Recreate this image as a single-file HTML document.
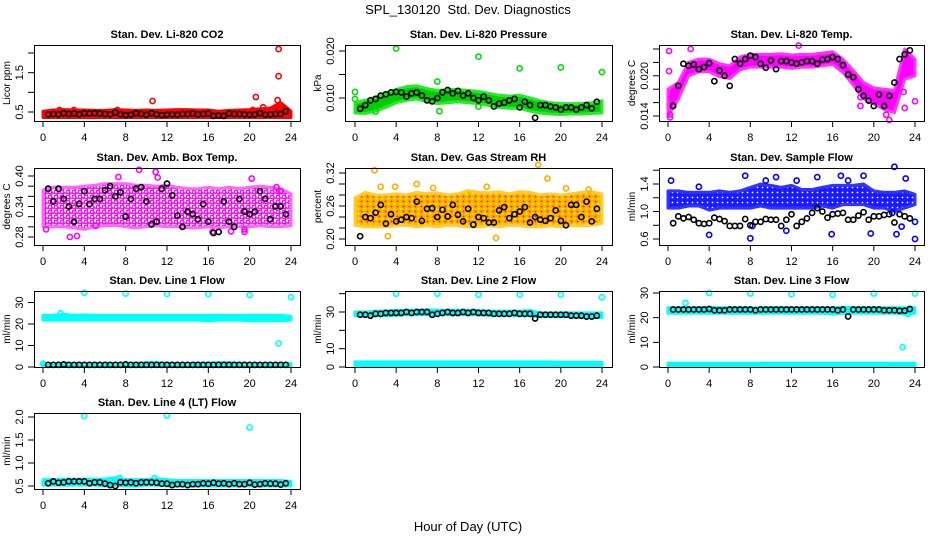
<!DOCTYPE html>
<html><head><meta charset="utf-8">
<style>
html,body{margin:0;padding:0;background:#fff;}
svg{display:block;font-family:"Liberation Sans",Arial,sans-serif;}
</style></head>
<body>
<svg id="chart" width="936" height="540" viewBox="0 0 936 540" xmlns="http://www.w3.org/2000/svg">
<defs>
  <pattern id="patMag" width="6" height="5" patternUnits="userSpaceOnUse">
    <circle cx="2" cy="2" r="1.8" fill="none" stroke="#ff00ff" stroke-width="1.4"/>
    <circle cx="5" cy="4.5" r="1.6" fill="none" stroke="#ff00ff" stroke-width="1.4"/>
  </pattern>
  <pattern id="patRH" width="6" height="5" patternUnits="userSpaceOnUse">
    <rect width="6" height="5" fill="#ffb000"/>
    <circle cx="1.5" cy="1.5" r="1" fill="#ff2a00"/>
    <circle cx="4.5" cy="3.8" r="1" fill="#ffff00"/>
  </pattern>
  <pattern id="patBlue" width="5" height="5" patternUnits="userSpaceOnUse">
    <rect width="5" height="5" fill="#1a1aff"/>
    <circle cx="2.5" cy="2.5" r="0.9" fill="#ffffff"/>
  </pattern>
</defs>
<text x="468" y="14" font-size="13" text-anchor="middle">SPL_130120&#160; Std. Dev. Diagnostics</text>
<text x="468" y="531" font-size="13" text-anchor="middle">Hour of Day (UTC)</text>
<g id="panels"></g>
</svg>
<script>
// ---------- data ----------
const knotH = [0,1,2,3,4,5,6,7,8,9,10,11,12,13,14,15,16,17,18,19,20,21,22,23,24];
const blkH = [0.5,1,1.5,2,2.5,3,3.5,4,4.5,5,5.5,6,6.5,7,7.5,8,8.5,9,9.5,10,10.5,11,11.5,12,12.5,13,13.5,14,14.5,15,15.5,16,16.5,17,17.5,18,18.5,19,19.5,20,20.5,21,21.5,22,22.5,23,23.5];
const xTicks = [0,4,8,12,16,20,24];

// P1 CO2
const co2Lo = [0.36,0.36,0.36,0.36,0.36,0.36,0.36,0.36,0.36,0.36,0.36,0.36,0.36,0.36,0.36,0.36,0.36,0.36,0.36,0.36,0.36,0.36,0.36,0.36,0.36];
const co2Hi = [0.52,0.55,0.56,0.55,0.55,0.54,0.54,0.56,0.55,0.54,0.55,0.54,0.55,0.56,0.56,0.55,0.55,0.52,0.54,0.55,0.56,0.58,0.60,0.74,0.52];
const co2Blk = [0.44,0.45,0.44,0.47,0.45,0.46,0.44,0.47,0.46,0.47,0.46,0.45,0.44,0.49,0.44,0.42,0.43,0.47,0.45,0.43,0.47,0.44,0.42,0.43,0.44,0.43,0.45,0.45,0.46,0.44,0.45,0.46,0.40,0.41,0.40,0.46,0.45,0.45,0.44,0.43,0.44,0.47,0.43,0.44,0.45,0.45,0.52];
const co2OutH = [10.6,20.6,22.8,22.8,22.7,1.6,3.0,7.2,21.3,20.3];
const co2OutV = [0.78,0.88,2.10,1.41,0.80,0.55,0.55,0.55,0.62,0.55];

// P2 Pressure
const presLo = [0.0068,0.0067,0.0072,0.0080,0.0090,0.0095,0.0098,0.0092,0.0088,0.0090,0.0092,0.0090,0.0088,0.0084,0.0080,0.0078,0.0078,0.0072,0.0068,0.0066,0.0065,0.0066,0.0066,0.0067,0.0068];
const presHi = [0.0090,0.0095,0.0102,0.0110,0.0118,0.0124,0.0126,0.0120,0.0116,0.0118,0.0118,0.0116,0.0114,0.0110,0.0106,0.0104,0.0106,0.0100,0.0094,0.0090,0.0088,0.0088,0.0088,0.0090,0.0094];
const presBlk = [0.0077,0.0085,0.0095,0.0098,0.0105,0.0108,0.0112,0.0113,0.0112,0.0103,0.0110,0.0112,0.0105,0.0095,0.0093,0.0100,0.0112,0.0117,0.0110,0.0115,0.0105,0.0110,0.0100,0.0095,0.0103,0.0095,0.0082,0.0088,0.0090,0.0095,0.0098,0.0080,0.0092,0.0085,0.0058,0.0085,0.0085,0.0082,0.0080,0.0075,0.0080,0.0080,0.0075,0.0080,0.0085,0.0078,0.0092];
const presOutH = [0,4,8,12,16,20,24,0,12,8.2,2];
const presOutV = [0.0113,0.0205,0.0135,0.0188,0.0163,0.0165,0.0155,0.0098,0.0082,0.0072,0.0071];

// P3 Temp
const tempLo = [0.0140,0.0165,0.0200,0.0206,0.0206,0.0199,0.0196,0.0209,0.0213,0.0213,0.0213,0.0213,0.0211,0.0213,0.0213,0.0215,0.0217,0.0205,0.0186,0.0166,0.0158,0.0150,0.0145,0.0195,0.0200];
const tempHi = [0.0180,0.0190,0.0220,0.0225,0.0225,0.0218,0.0215,0.0228,0.0232,0.0232,0.0232,0.0233,0.0231,0.0232,0.0232,0.0234,0.0236,0.0225,0.0208,0.0190,0.0182,0.0180,0.0178,0.0240,0.0225];
const tempBlk = [0.0155,0.0185,0.0218,0.0215,0.0217,0.0210,0.0213,0.0219,0.0192,0.0208,0.0200,0.0185,0.0225,0.0218,0.0225,0.0230,0.0228,0.0218,0.0212,0.0223,0.0210,0.0222,0.0222,0.0220,0.0218,0.0220,0.0222,0.0222,0.0218,0.0224,0.0225,0.0228,0.0225,0.0216,0.0202,0.0198,0.0180,0.0170,0.0163,0.0155,0.0172,0.0155,0.0170,0.0190,0.0225,0.0232,0.0238];
const tempOutH = [0.1,0.1,0.2,0.2,2.2,23,22.9,21.5,18.7,18.7,12.7,24,0.4,21.2];
const tempOutV = [0.0237,0.0207,0.0142,0.0138,0.0240,0.0152,0.0176,0.0134,0.0155,0.0168,0.0245,0.0162,0.0170,0.0142];

// P4 Amb box temp
const ambLo = [0.300,0.300,0.300,0.298,0.295,0.300,0.302,0.303,0.300,0.298,0.300,0.302,0.300,0.300,0.298,0.298,0.300,0.298,0.300,0.300,0.300,0.302,0.300,0.300,0.302];
const ambHi = [0.372,0.378,0.378,0.378,0.380,0.382,0.385,0.385,0.385,0.382,0.382,0.380,0.382,0.378,0.375,0.375,0.378,0.375,0.378,0.375,0.378,0.380,0.378,0.375,0.365];
const ambBlk = [0.375,0.350,0.375,0.355,0.340,0.310,0.345,0.370,0.345,0.355,0.355,0.372,0.380,0.360,0.368,0.320,0.355,0.375,0.378,0.350,0.305,0.310,0.375,0.385,0.362,0.322,0.300,0.330,0.325,0.315,0.345,0.310,0.288,0.290,0.350,0.310,0.300,0.355,0.330,0.325,0.330,0.370,0.355,0.315,0.340,0.340,0.325];
const ambOutH = [0.3,2.6,3.3,5.1,7.3,10.9,11.1,19.5,19.5,20.2,22.6,23,9.3,16.4,18.2];
const ambOutV = [0.295,0.280,0.282,0.302,0.398,0.408,0.397,0.290,0.295,0.395,0.378,0.370,0.412,0.290,0.291];

// P5 Gas stream RH
const rhLo = [0.225,0.222,0.222,0.222,0.224,0.225,0.222,0.224,0.222,0.225,0.224,0.222,0.222,0.224,0.222,0.225,0.224,0.222,0.222,0.224,0.222,0.224,0.224,0.225,0.228];
const rhHi = [0.275,0.285,0.280,0.280,0.282,0.280,0.285,0.282,0.284,0.280,0.282,0.288,0.285,0.284,0.286,0.282,0.286,0.285,0.280,0.282,0.280,0.282,0.285,0.286,0.282];
const rhBlk = [0.205,0.240,0.238,0.248,0.262,0.228,0.245,0.232,0.235,0.240,0.238,0.268,0.233,0.255,0.256,0.240,0.253,0.241,0.262,0.244,0.232,0.255,0.226,0.240,0.238,0.230,0.230,0.252,0.258,0.238,0.245,0.250,0.258,0.230,0.240,0.235,0.233,0.238,0.252,0.233,0.225,0.262,0.262,0.240,0.268,0.232,0.255];
const rhOutH = [1.9,3.9,6.0,17.8,18.7,13.7,3.2,2.5,20.5,22.7,12.8,7.6];
const rhOutV = [0.325,0.295,0.300,0.335,0.310,0.202,0.205,0.295,0.292,0.290,0.295,0.293];

// P6 Sample flow
const smpLo = [1.05,1.05,1.08,1.08,1.02,1.05,1.05,1.05,1.05,1.08,1.05,1.05,1.05,1.05,1.05,1.08,1.05,1.10,1.10,1.10,1.05,1.05,1.00,1.05,1.10];
const smpHi = [1.30,1.30,1.28,1.28,1.28,1.30,1.28,1.30,1.35,1.40,1.38,1.35,1.38,1.32,1.32,1.35,1.38,1.38,1.38,1.40,1.30,1.28,1.28,1.30,1.25];
const smpBlk = [0.83,0.93,0.90,0.92,0.88,0.83,0.82,0.83,0.91,0.89,0.86,0.79,0.79,0.79,0.89,0.80,0.85,0.85,0.89,0.88,0.88,0.79,0.88,0.96,0.79,0.85,0.90,0.98,1.05,1.00,0.91,0.96,0.97,0.98,0.88,0.88,0.94,0.99,0.88,0.93,0.93,0.95,0.96,0.84,0.96,0.93,0.90];
const smpOutH = [0.3,3.0,7.5,8.0,8.2,9.5,10.5,11.5,12.5,14.5,15.9,16.8,17.5,19.0,22.0,22.2,22.7,23.1,24.0,21.8,4.0,19.7,24.0];
const smpOutV = [1.45,1.36,1.52,0.61,0.79,1.45,1.50,0.72,1.45,1.50,0.67,1.52,1.45,1.52,1.65,0.67,0.78,1.48,0.60,0.98,0.66,0.68,0.85];

// P7 Line 1 flow
const l1HiLo = [21.8,21.8,21.8,21.8,21.8,21.8,21.8,21.8,21.8,21.8,21.8,21.8,21.8,21.8,21.8,21.8,21.5,21.8,21.8,21.8,21.5,21.5,21.5,21.5,21.8];
const l1HiHi = [24.0,24.0,24.5,24.0,24.2,24.0,24.0,24.0,24.0,24.0,24.0,24.0,24.0,24.0,24.0,24.0,24.0,24.0,24.0,24.0,24.0,24.0,24.0,24.0,23.5];
const l1LoLo = [0.4,0.4,0.4,0.4,0.4,0.4,0.4,0.4,0.4,0.4,0.4,0.4,0.4,0.4,0.4,0.4,0.4,0.4,0.4,0.4,0.4,0.4,0.4,0.4,0.4];
const l1LoHi = [1.6,1.6,1.6,1.6,1.6,1.6,1.6,1.6,1.6,1.8,2.0,2.0,1.8,1.6,1.6,1.8,1.8,2.0,2.0,1.8,1.6,1.6,1.6,1.6,1.6];
const l1Blk = [1.0,1.0,1.0,1.2,1.0,1.0,1.0,1.0,1.0,1.0,1.0,1.0,1.0,1.0,1.0,1.2,1.0,1.0,1.0,1.0,1.0,1.0,1.0,1.0,1.0,1.0,1.0,1.0,1.0,1.0,1.0,1.0,1.0,1.0,1.0,1.0,1.0,1.0,1.0,1.0,1.0,1.0,1.0,1.0,1.0,1.0,1.0];
const l1OutH = [4,8,12,16,20,24,22.8,1.7,0];
const l1OutV = [34.5,34.2,34.0,34.0,33.5,32.5,11.0,25.0,1.5];

// P8 Line 2 flow
const l2HiLo = [28.0,28.0,28.0,28.0,28.2,28.5,28.5,28.5,28.5,28.5,28.5,28.5,28.5,28.2,28.2,28.2,28.0,28.0,27.5,27.5,27.5,27.5,27.2,27.0,27.0];
const l2HiHi = [30.0,30.0,30.5,30.5,30.8,31.0,31.0,31.2,31.0,31.0,31.0,31.0,30.8,30.5,30.5,30.5,30.5,30.8,29.5,29.5,29.5,29.5,29.5,29.5,29.5];
const l2LoLo = [0.5,0.5,0.5,0.5,0.5,0.5,0.5,0.5,0.5,0.5,0.5,0.5,0.5,0.5,0.5,0.5,0.5,0.5,0.5,0.5,0.5,0.5,0.5,0.5,0.5];
const l2LoHi = [2.8,2.8,2.8,2.8,2.8,2.8,2.8,2.8,2.8,2.8,2.8,2.8,2.8,2.8,2.8,2.8,2.8,2.8,2.8,2.8,2.5,2.5,2.5,2.5,2.5];
const l2Blk = [28.5,28.5,28.0,29.0,29.0,29.5,29.5,29.5,29.5,30.0,29.5,30.0,30.0,30.0,28.5,29.0,29.5,30.0,29.5,29.5,30.0,29.5,30.0,29.5,29.5,29.5,29.0,29.0,29.0,29.0,29.5,29.0,29.0,29.0,26.5,28.5,28.5,28.5,28.5,28.5,28.5,28.0,28.0,28.0,27.5,27.5,28.0];
const l2OutH = [4,8,12,16,20,24];
const l2OutV = [40.0,40.0,39.5,39.5,39.5,38.0];

// P9 Line 3 flow
const l3HiLo = [21.8,21.8,21.8,21.8,21.8,21.8,21.8,21.8,21.8,21.8,21.8,21.8,21.8,21.8,21.8,21.8,21.5,21.8,21.8,21.8,21.8,21.8,21.8,21.5,21.8];
const l3HiHi = [24.0,24.0,24.0,24.0,24.2,24.0,24.0,24.0,24.0,24.0,24.0,24.0,24.0,24.0,24.0,24.0,24.0,24.2,24.0,24.0,24.0,24.0,24.0,24.0,24.0];
const l3LoLo = [0.4,0.4,0.4,0.4,0.4,0.4,0.4,0.4,0.4,0.4,0.4,0.4,0.4,0.4,0.4,0.4,0.4,0.4,0.4,0.4,0.4,0.4,0.4,0.4,0.4];
const l3LoHi = [1.6,1.6,1.6,1.6,1.6,1.6,1.6,1.6,1.6,1.6,1.6,1.6,1.6,1.6,1.6,1.6,1.6,1.6,1.6,1.6,1.6,1.6,1.6,1.6,1.6];
const l3Blk = [23.3,23.3,23.3,23.3,23.3,23.3,23.3,23.5,23.0,23.0,23.0,23.3,23.3,23.3,23.3,23.3,23.0,23.3,23.3,23.3,23.3,23.3,23.3,23.3,23.3,23.3,23.3,23.3,23.3,23.3,23.3,23.3,23.0,23.3,20.5,23.3,23.3,23.3,23.3,23.3,23.3,23.0,23.0,23.0,22.8,22.8,23.5];
const l3OutH = [4,8,12,16,20,24,22.8,1.7,23.3];
const l3OutV = [30.0,29.8,29.5,29.3,29.8,29.8,8.0,26.0,21.5];

// P10 Line 4 flow
const l4Lo = [0.52,0.52,0.52,0.52,0.52,0.52,0.50,0.52,0.50,0.50,0.52,0.52,0.50,0.50,0.50,0.50,0.50,0.50,0.50,0.50,0.50,0.50,0.50,0.50,0.50];
const l4Hi = [0.64,0.64,0.65,0.65,0.65,0.65,0.65,0.68,0.64,0.64,0.64,0.66,0.64,0.62,0.62,0.62,0.62,0.62,0.62,0.62,0.62,0.62,0.62,0.62,0.60];
const l4Blk = [0.56,0.60,0.57,0.58,0.60,0.60,0.60,0.60,0.56,0.58,0.58,0.55,0.52,0.50,0.58,0.57,0.58,0.56,0.58,0.58,0.58,0.57,0.55,0.55,0.52,0.54,0.54,0.52,0.54,0.54,0.56,0.55,0.57,0.55,0.56,0.54,0.56,0.54,0.54,0.57,0.53,0.54,0.56,0.55,0.55,0.53,0.56];
const l4OutH = [4,12,20,7.4,10.8];
const l4OutV = [2.02,2.03,1.77,0.67,0.67];

// ---------- rendering ----------
const NS = 'http://www.w3.org/2000/svg';
const root = document.getElementById('panels');
const cols = [{l:34,r:300,x0:43,x24:291},{l:345,r:612,x0:355,x24:602},{l:659,r:924,x0:668,x24:915}];
const rows = [{t:45,b:121},{t:168,b:245},{t:291,b:367},{t:413,b:489}];

function mk(tag, attrs, parent){
  const e = document.createElementNS(NS, tag);
  for (const k in attrs) e.setAttribute(k, attrs[k]);
  parent.appendChild(e);
  return e;
}

function drawPanel(p){
  const c = cols[p.col], r = rows[p.row];
  const g = mk('g', {}, root);
  
  
  const X = h => c.x0 + h / 24 * (c.x24 - c.x0);
  const Y = v => p.yA[1] + (v - p.yA[0]) * (p.yA[3] - p.yA[1]) / (p.yA[2] - p.yA[0]);

  p.bands.forEach(bd => {
    let pts = [];
    for (let i = 0; i < knotH.length; i++) pts.push(X(knotH[i]).toFixed(1) + ',' + Y(bd.hi[i]).toFixed(1));
    for (let i = knotH.length - 1; i >= 0; i--) pts.push(X(knotH[i]).toFixed(1) + ',' + Y(bd.lo[i]).toFixed(1));
    const poly = mk('polygon', {points: pts.join(' '), fill: bd.fill, stroke: bd.stroke, 'stroke-width': 3, 'stroke-linejoin': 'round'}, g);
    
    
  });
  for (let i = 0; i < Math.min(p.outH.length, p.outV.length); i++) {
    const ci = mk('circle', {cx: X(p.outH[i]), cy: Y(p.outV[i]), r: 2.6, fill: 'none', stroke: p.color, 'stroke-width': 1.6}, g);
    
    
  }
  for (let i = 0; i < Math.min(blkH.length, p.blk.length); i++) {
    const ci = mk('circle', {cx: X(blkH[i]), cy: Y(p.blk[i]), r: 2.6, fill: 'none', stroke: '#000', 'stroke-width': 1.6}, g);
    
    
  }
  const box = mk('rect', {x: c.l + .5, y: r.t + .5, width: c.r - c.l, height: r.b - r.t, fill: 'none', stroke: '#000', 'stroke-width': 1}, g);
  
  
  const tt = mk('text', {x: (c.l + c.r) / 2, y: r.t - 7, 'font-size': 11, 'font-weight': 'bold', 'text-anchor': 'middle'}, g);
  tt.textContent = p.title;
  
  
  xTicks.forEach(t => {
    const x = X(t);
    const ln = mk('line', {x1: x, x2: x, y1: r.b, y2: r.b + 6, stroke: '#000'}, g);
    
    
    const tx = mk('text', {x: x, y: r.b + 20, 'font-size': 11, 'text-anchor': 'middle'}, g);
    tx.textContent = String(t);
    
    
  });
  p.yTicks.forEach((t, i) => {
    const y = Y(t);
    const ln = mk('line', {x1: c.l - 6, x2: c.l, y1: y, y2: y, stroke: '#000'}, g);
    
    
    if (p.yLabels[i]) {
      const tx = mk('text', {x: 0, y: 0, 'font-size': 11, 'text-anchor': 'middle', transform: 'translate(' + (c.l - 11) + ',' + y + ') rotate(-90)'}, g);
      tx.textContent = p.yLabels[i];
      
      
    }
  });
  const yt = mk('text', {x: 0, y: 0, 'font-size': 10, 'text-anchor': 'middle', transform: 'translate(' + (c.l - 24) + ',' + ((r.t + r.b) / 2) + ') rotate(-90)'}, g);
  yt.textContent = p.ylab;
  
  
}

const panels = [
 {name:'co2', col:0,row:0,title:'Stan. Dev. Li-820 CO2', ylab:'Licor ppm', color:'#ff0000', yA:[0.5,112,2.0,53],
  yTicks:[0.5,1.0,1.5,2.0], yLabels:['0.5','','1.5',''], bands:[{lo:co2Lo,hi:co2Hi,fill:'#ff0000',stroke:'#ff0000'}], outH:co2OutH,outV:co2OutV, blk:co2Blk},
 {name:'pressure', col:1,row:0,title:'Stan. Dev. Li-820 Pressure', ylab:'kPa', color:'#00dd00', yA:[0.010,98,0.020,51],
  yTicks:[0.010,0.015,0.020], yLabels:['0.010','','0.020'], bands:[{lo:presLo,hi:presHi,fill:'#00cc00',stroke:'#22ee22'}], outH:presOutH,outV:presOutV, blk:presBlk},
 {name:'li820-temp', col:2,row:0,title:'Stan. Dev. Li-820 Temp.', ylab:'degrees C', color:'#ff00ff', yA:[0.014,116,0.024,49],
  yTicks:[0.014,0.016,0.018,0.020,0.022,0.024], yLabels:['0.014','','','0.020','',''], bands:[{lo:tempLo,hi:tempHi,fill:'#ff00ff',stroke:'#ff33ff'}], outH:tempOutH,outV:tempOutV, blk:tempBlk},
 {name:'amb-box-temp', col:0,row:1,title:'Stan. Dev. Amb. Box Temp.', ylab:'degrees C', color:'#ff00ff', yA:[0.28,237,0.40,176],
  yTicks:[0.28,0.30,0.32,0.34,0.36,0.38,0.40], yLabels:['0.28','','','0.34','','','0.40'], bands:[{lo:ambLo,hi:ambHi,fill:'url(#patMag)',stroke:'#ff66ff'}], outH:ambOutH,outV:ambOutV, blk:ambBlk},
 {name:'gas-stream-rh', col:1,row:1,title:'Stan. Dev. Gas Stream RH', ylab:'percent', color:'#ffaa00', yA:[0.20,239,0.32,173],
  yTicks:[0.20,0.22,0.24,0.26,0.28,0.30,0.32], yLabels:['0.20','','','0.26','','','0.32'], bands:[{lo:rhLo,hi:rhHi,fill:'url(#patRH)',stroke:'#ffcc33'}], outH:rhOutH,outV:rhOutV, blk:rhBlk},
 {name:'sample-flow', col:2,row:1,title:'Stan. Dev. Sample Flow', ylab:'ml/min', color:'#0000ff', yA:[0.6,239,1.4,184],
  yTicks:[0.6,0.8,1.0,1.2,1.4,1.6], yLabels:['0.6','','1.0','','1.4',''], bands:[{lo:smpLo,hi:smpHi,fill:'url(#patBlue)',stroke:'#3333ff'}], outH:smpOutH,outV:smpOutV, blk:smpBlk},
 {name:'line1-flow', col:0,row:2,title:'Stan. Dev. Line 1 Flow', ylab:'ml/min', color:'#00ffff', yA:[0,367,30,302.5],
  yTicks:[0,10,20,30], yLabels:['0','10','20','30'], bands:[{lo:l1HiLo,hi:l1HiHi,fill:'#00ffff',stroke:'#00ffff'},{lo:l1LoLo,hi:l1LoHi,fill:'#00ffff',stroke:'#00ffff'}], outH:l1OutH,outV:l1OutV, blk:l1Blk},
 {name:'line2-flow', col:1,row:2,title:'Stan. Dev. Line 2 Flow', ylab:'ml/min', color:'#00ffff', yA:[0,367,30,312],
  yTicks:[0,10,20,30,40], yLabels:['0','10','','30',''], bands:[{lo:l2HiLo,hi:l2HiHi,fill:'#00ffff',stroke:'#00ffff'},{lo:l2LoLo,hi:l2LoHi,fill:'#00ffff',stroke:'#00ffff'}], outH:l2OutH,outV:l2OutV, blk:l2Blk},
 {name:'line3-flow', col:2,row:2,title:'Stan. Dev. Line 3 Flow', ylab:'ml/min', color:'#00ffff', yA:[0,367,30,293],
  yTicks:[0,10,20,30], yLabels:['0','10','20','30'], bands:[{lo:l3HiLo,hi:l3HiHi,fill:'#00ffff',stroke:'#00ffff'},{lo:l3LoLo,hi:l3LoHi,fill:'#00ffff',stroke:'#00ffff'}], outH:l3OutH,outV:l3OutV, blk:l3Blk},
 {name:'line4-flow', col:0,row:3,title:'Stan. Dev. Line 4 (LT) Flow', ylab:'ml/min', color:'#00ffff', yA:[0.5,486,2.0,417],
  yTicks:[0.5,1.0,1.5,2.0], yLabels:['0.5','1.0','1.5','2.0'], bands:[{lo:l4Lo,hi:l4Hi,fill:'#00ffff',stroke:'#00ffff'}], outH:l4OutH,outV:l4OutV, blk:l4Blk}
];
panels.forEach(drawPanel);
</script>
</body></html>
